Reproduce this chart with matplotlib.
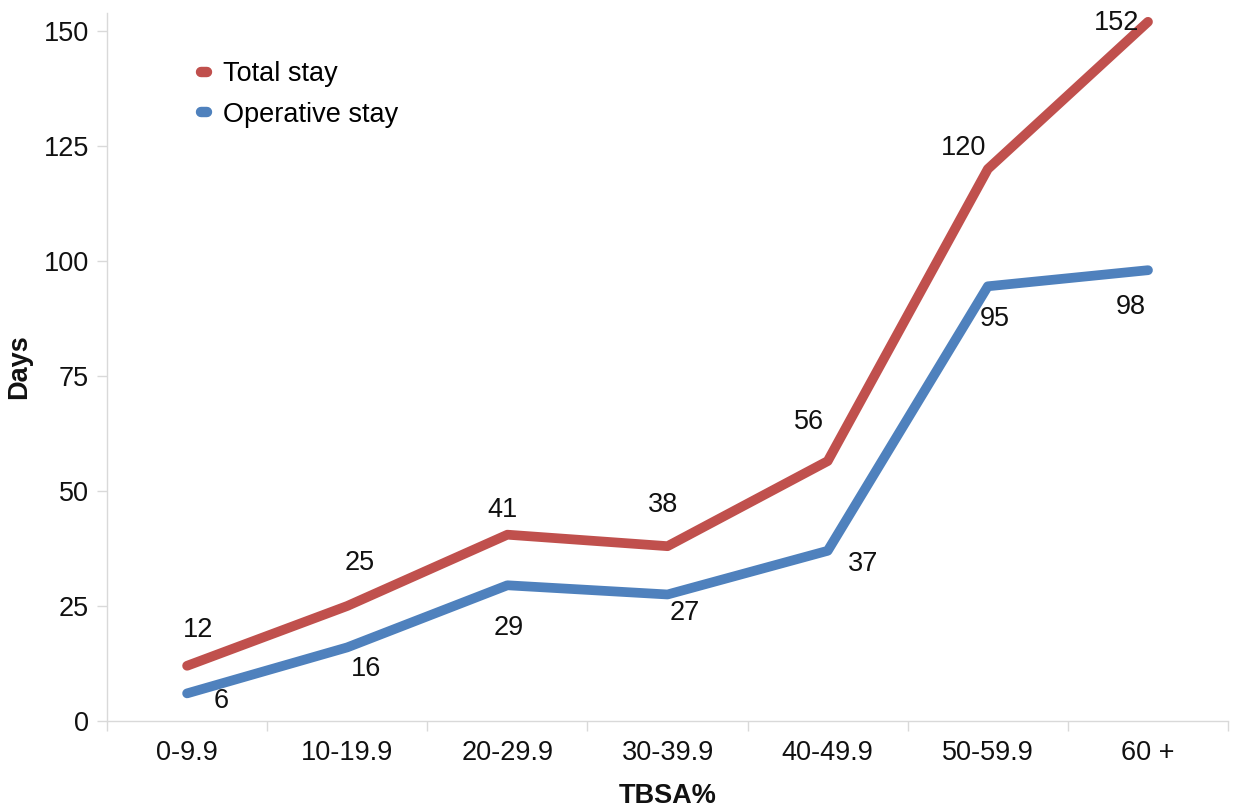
import matplotlib
matplotlib.use("Agg")
import matplotlib.pyplot as plt
import numpy as np

plt.rcParams['font.family'] = ['Liberation Sans', 'DejaVu Sans']

categories = ["0-9.9", "10-19.9", "20-29.9", "30-39.9", "40-49.9", "50-59.9", "60 +"]
total_stay = [12, 25, 40.5, 38, 56.5, 120, 152]
total_labels = ["12", "25", "41", "38", "56", "120", "152"]
operative_stay = [6, 16, 29.5, 27.5, 37, 94.5, 98]
operative_labels = ["6", "16", "29", "27", "37", "95", "98"]
yticks = [0, 25, 50, 75, 100, 125, 150]

# label offsets in pixels (dx, dy) relative to the point
total_off = [(11, 36), (12, 43), (-5, 25), (-5, 41), (-19, 39), (-24, 21), (-31, -1)]
oper_off = [(34, -8), (19, -22), (1, -43), (17, -19), (35, -13), (7, -33), (-17, -37)]

red = "#C0504D"
blue = "#4F81BD"
grey = "#D9D9D9"
txt = "#111111"

fig = plt.figure(figsize=(12.33, 8.08), dpi=100)
ax = fig.add_axes([0.0868, 0.1077, 0.9092, 0.8767])

x = np.arange(len(categories))
ax.plot(x, total_stay, color=red, lw=7.0, solid_capstyle='round', solid_joinstyle='round',
        label="Total stay", clip_on=False, zorder=3)
ax.plot(x, operative_stay, color=blue, lw=7.0, solid_capstyle='round', solid_joinstyle='round',
        label="Operative stay", clip_on=False, zorder=3)

fs = 19.5
for xi, yi, lab, off in zip(x, total_stay, total_labels, total_off):
    ax.annotate(lab, (xi, yi), xytext=off, textcoords='offset pixels',
                ha='center', va='center', fontsize=fs, color=txt)
for xi, yi, lab, off in zip(x, operative_stay, operative_labels, oper_off):
    ax.annotate(lab, (xi, yi), xytext=off, textcoords='offset pixels',
                ha='center', va='center', fontsize=fs, color=txt)

ax.set_xlim(-0.5, len(categories) - 0.5)
ax.set_ylim(0, 154)
ax.set_yticks(yticks)
ax.set_yticklabels([str(v) for v in yticks], fontsize=fs, color=txt)
ax.set_xticks(x)
ax.set_xticklabels(categories, fontsize=fs, color=txt)
ax.set_xticks(np.arange(-0.5, len(categories), 1.0), minor=True)
ax.tick_params(axis='x', which='major', length=0, pad=14)
ax.tick_params(axis='x', which='minor', length=7, color=grey, width=1)
ax.tick_params(axis='y', which='major', length=7, color=grey, width=1, pad=6)

for s in ['top', 'right']:
    ax.spines[s].set_visible(False)
for s in ['left', 'bottom']:
    ax.spines[s].set_color(grey)
    ax.spines[s].set_linewidth(1)

ax.set_ylabel("Days", fontsize=fs, fontweight='bold', color=txt)
ax.yaxis.set_label_coords(-0.0665, 0.5)
ax.set_xlabel("TBSA%", fontsize=fs, fontweight='bold', labelpad=12, color=txt)

leg = ax.legend(loc='upper left', bbox_to_anchor=(0.062, 0.966), frameon=False,
                fontsize=fs, handlelength=0.22, handletextpad=0.6, labelspacing=0.55)
for h in leg.get_lines():
    h.set_linewidth(7.5)
    h.set_solid_capstyle('round')

fig.savefig("out.png", dpi=100)
